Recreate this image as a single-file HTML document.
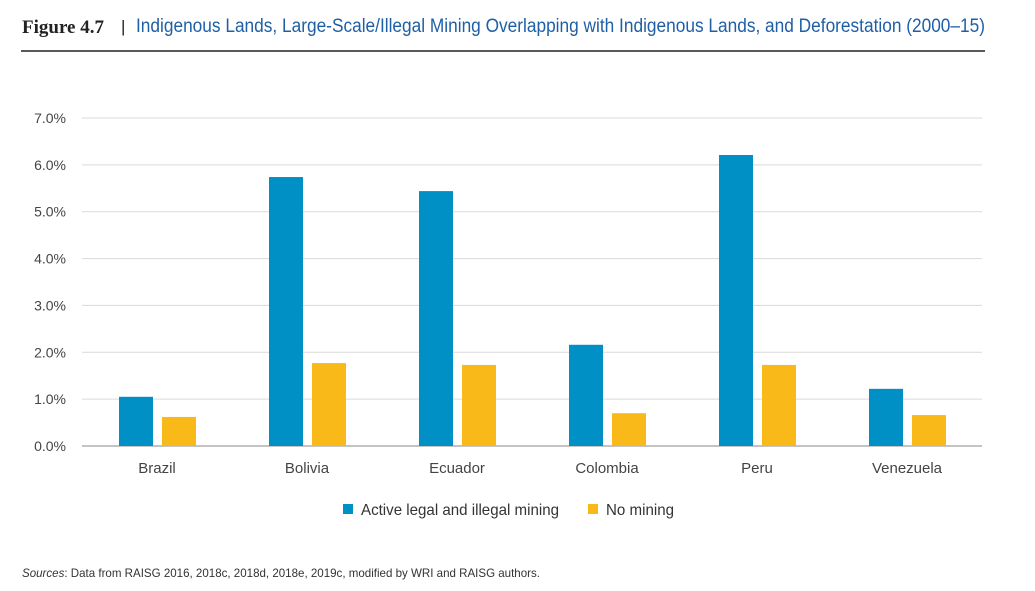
<!DOCTYPE html>
<html><head><meta charset="utf-8"><style>
body{margin:0;background:#fff;}
svg{display:block;font-family:"Liberation Sans",sans-serif;}
</style></head><body>
<svg id="c" width="1035" height="591">
<text x="22" y="33" font-family="Liberation Serif" font-size="19" font-weight="bold" fill="#222">Figure 4.7</text>
<text x="121" y="32" font-size="17" fill="#222">|</text>
<text x="136" y="32" font-size="19" fill="#1f5fa6" textLength="849" lengthAdjust="spacingAndGlyphs">Indigenous Lands, Large-Scale/Illegal Mining Overlapping with Indigenous Lands, and Deforestation (2000–15)</text>
<line x1="21" y1="51" x2="985" y2="51" stroke="#222" stroke-width="1.5"/>
<g id="grid"></g><g id="bars"></g><g id="labels"></g>
<rect x="343" y="504" width="10" height="10" fill="#0090c6"/>
<text x="361" y="515" font-size="16" fill="#333" textLength="198" lengthAdjust="spacingAndGlyphs">Active legal and illegal mining</text>
<rect x="588" y="504" width="10" height="10" fill="#f9b918"/>
<text x="606" y="515" font-size="16" fill="#333" textLength="68" lengthAdjust="spacingAndGlyphs">No mining</text>
<text x="22" y="577" font-size="12" fill="#333" textLength="518" lengthAdjust="spacingAndGlyphs"><tspan font-style="italic">Sources</tspan>: Data from RAISG 2016, 2018c, 2018d, 2018e, 2019c, modified by WRI and RAISG authors.</text>
</svg>
<script>
const categories=["Brazil","Bolivia","Ecuador","Colombia","Peru","Venezuela"];
const miningValues=[1.05,5.74,5.44,2.16,6.21,1.22];
const noMiningValues=[0.62,1.77,1.73,0.70,1.73,0.66];
const tickValues=[0,1,2,3,4,5,6,7];
const tickLabels=["0.0%","1.0%","2.0%","3.0%","4.0%","5.0%","6.0%","7.0%"];
const NS="http://www.w3.org/2000/svg";
const x0=82,x1=982,y0=446,yTop=118;
const y=v=>y0-(v/7)*(y0-yTop);
const band=(x1-x0)/categories.length;
const xc=i=>x0+band*(i+0.5);
function mk(t,a,p){const e=document.createElementNS(NS,t);for(const k in a)e.setAttribute(k,a[k]);p.appendChild(e);return e;}
const g=document.getElementById('grid'),b=document.getElementById('bars'),l=document.getElementById('labels');
tickValues.forEach((v,i)=>{
 const ln=mk('line',{x1:x0,x2:x1,y1:y(v),y2:y(v),stroke:v===0?'#888':'#d9d9d9','stroke-width':1},g);
 
 
 const t=mk('text',{x:66,y:y(v)+5,'font-size':14,fill:'#444','text-anchor':'end'},l);
 t.textContent=tickLabels[i];
 
 
});
categories.forEach((c,i)=>{
 const r1=mk('rect',{x:xc(i)-38,y:y(miningValues[i]),width:34,height:y0-y(miningValues[i]),fill:'#0090c6'},b);
 
 
 const r2=mk('rect',{x:xc(i)+5,y:y(noMiningValues[i]),width:34,height:y0-y(noMiningValues[i]),fill:'#f9b918'},b);
 
 
 const t=mk('text',{x:xc(i),y:473,'font-size':15,fill:'#444','text-anchor':'middle'},l);
 t.textContent=c;
 
 
});
</script>
</body></html>
